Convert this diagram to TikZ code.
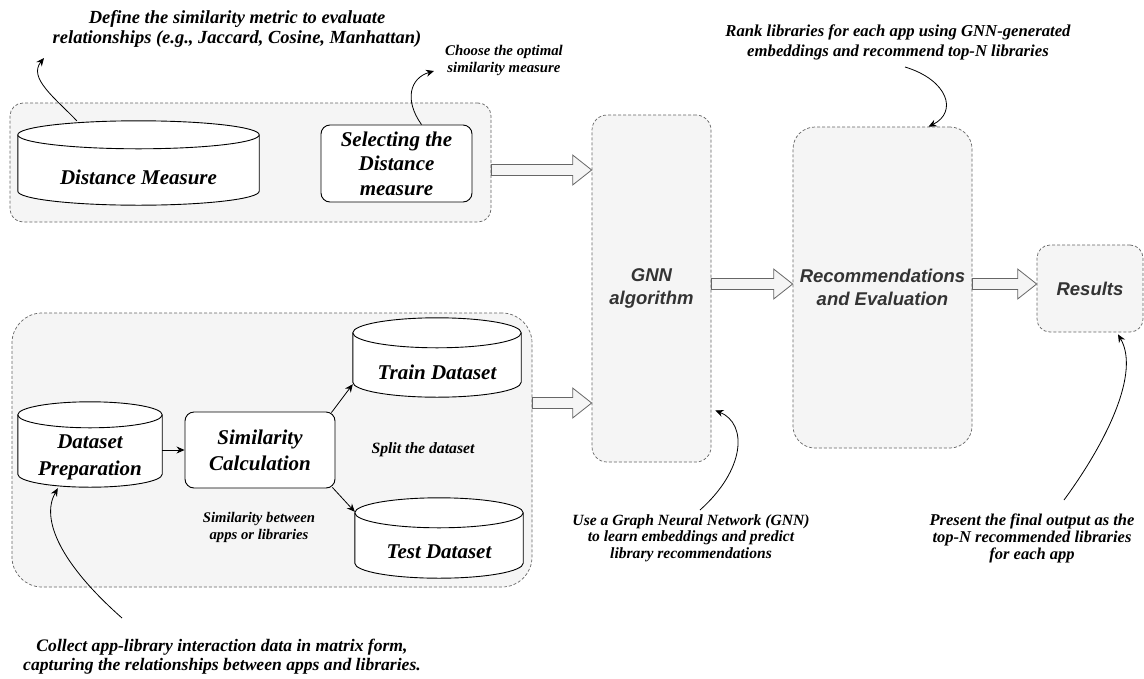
\documentclass[tikz,border=0pt]{standalone}
\usepackage{fontspec}
\setmainfont{Liberation Serif}
\newfontfamily\sansf{Liberation Sans}
\usetikzlibrary{calc,arrows.meta}
\definecolor{boxfill}{HTML}{F5F5F5}
\definecolor{boxline}{HTML}{666666}
\definecolor{lbltext}{HTML}{333333}
\newcommand{\drawcyl}[2]{%
  \filldraw[cylline] let \p1=(#1.north west), \p2=(#1.south east), \n1={(\x2-\x1)/2} in
    (\x1,\y1-#2pt) -- (\x1,\y2+#2pt)
    arc[start angle=180,end angle=360,x radius=\n1,y radius=#2pt]
    -- (\x2,\y1-#2pt)
    arc[start angle=0,end angle=180,x radius=\n1,y radius=#2pt] -- cycle;
  \draw[cylline] let \p1=(#1.north west), \p2=(#1.south east), \n1={(\x2-\x1)/2} in
    (\x1,\y1-#2pt) arc[start angle=180,end angle=360,x radius=\n1,y radius=#2pt];}
\newcommand{\hollowarrow}[2]{%
  \filldraw[hollow] let \p1=#1, \p2=#2 in
    (\x1,\y1+5.5pt) -- (\x2-19pt,\y1+5.5pt) -- (\x2-19pt,\y1+15pt) -- (\x2,\y1)
    -- (\x2-19pt,\y1-15pt) -- (\x2-19pt,\y1-5.5pt) -- (\x1,\y1-5.5pt) -- cycle;}
\tikzset{
  grpbox/.style={draw=boxline, fill=boxfill, dash pattern=on 3pt off 2pt, line width=0.7pt, rounded corners=#1, inner sep=0pt},
  grpbox/.default=14pt,
  stagebox/.style={draw=boxline, fill=boxfill, dash pattern=on 3pt off 2pt, line width=0.7pt, rounded corners=#1, inner sep=0pt, align=center, text=lbltext, font=\sansf\fontsize{18.5}{23}\selectfont\bfseries\itshape},
  stagebox/.default=15pt,
  procbox/.style={draw=black, fill=white, line width=0.9pt, rounded corners=9pt, inner sep=0pt, align=center},
  cylspace/.style={inner sep=0pt},
  cylline/.style={draw=black, fill=white, line width=0.9pt},
  serlbl/.style={align=center, font=\fontsize{21}{25}\selectfont\bfseries\itshape},
  note/.style={align=center, inner sep=0pt},
  hollow/.style={draw=boxline, fill=boxfill, line width=0.8pt},
  flow/.style={-{Stealth[length=8pt,width=7pt]}, line width=0.8pt},
  callout/.style={-{Stealth[length=8pt,width=7pt]}, line width=0.8pt},
}
\begin{document}
\begin{tikzpicture}[x=1pt,y=-1pt]
\useasboundingbox[fill=white] (0,0) rectangle (1144,678);

% group boxes
\node[grpbox=13pt, minimum width=481pt, minimum height=119pt] (topgrp) at (250.5,162.5) {};
\node[grpbox=30pt, minimum width=520pt, minimum height=274pt] (lowgrp) at (272,450) {};

% stage boxes
\node[stagebox=15pt, minimum width=119pt, minimum height=347pt] (gnn) at (651.5,288.5) {GNN\\algorithm};
\node[stagebox=22pt, minimum width=179pt, minimum height=321pt] (rec) at (882.5,287.5) {Recommendations\\and Evaluation};
\node[stagebox=13pt, minimum width=106pt, minimum height=87pt] (res) at (1090,288.5) {Results};

% top group content
\node[cylspace, minimum width=241pt, minimum height=84pt] (dist) at (138.5,163) {};
\drawcyl{dist}{14}
\node[serlbl] (distt) at ($(dist.center)+(0,14)$) {Distance Measure};
\node[procbox, minimum width=151pt, minimum height=77pt, font=\fontsize{21}{24.5}\selectfont\bfseries\itshape] (sel) at (396.5,163.5) {Selecting the\\Distance\\measure};

% lower group content
\node[cylspace, minimum width=144pt, minimum height=85pt] (dprep) at (90,444.5) {};
\drawcyl{dprep}{13}
\node[serlbl, font=\fontsize{21}{27}\selectfont\bfseries\itshape] (dprept) at ($(dprep.center)+(0,13)$) {Dataset\\Preparation};
\node[procbox, minimum width=150pt, minimum height=76pt, font=\fontsize{21}{26}\selectfont\bfseries\itshape] (sim) at (260,450) {Similarity\\Calculation};
\node[cylspace, minimum width=168pt, minimum height=79pt] (train) at (437,357.5) {};
\drawcyl{train}{15}
\node[serlbl] (traint) at ($(train.center)+(0,15)$) {Train Dataset};
\node[cylspace, minimum width=168pt, minimum height=80pt] (test) at (439,538) {};
\drawcyl{test}{15}
\node[serlbl] (testt) at ($(test.center)+(0,14)$) {Test Dataset};
\node[note, font=\fontsize{15.7}{18}\selectfont\bfseries\itshape] (split) at (423,450) {Split the dataset};
\node[note, font=\fontsize{14.7}{17}\selectfont\bfseries\itshape] (simbtw) at (259,527) {Similarity between\\apps or libraries};

% flow arrows
\draw[flow] (dprep.east |- sim.west) -- (sim.west);
\draw[flow] ($(sim.north east)+(-4,1)$) -- ($(train.south west)+(0,-13)$);
\draw[flow] ($(sim.south east)+(-3,-1)$) -- ($(test.north west)+(0,14)$);

% hollow arrows
\coordinate (r1) at (0,170);
\coordinate (r2) at (0,403);
\coordinate (r3) at (0,284);
\hollowarrow{(topgrp.east |- r1)}{(gnn.west |- r1)}
\hollowarrow{(lowgrp.east |- r2)}{(gnn.west |- r2)}
\hollowarrow{(gnn.east |- r3)}{(rec.west |- r3)}
\hollowarrow{(rec.east |- r3)}{(res.west |- r3)}

% annotation texts
\node[note, font=\fontsize{18.5}{20}\selectfont\bfseries\itshape] (deft) at (237,29) {Define the similarity metric to evaluate\\relationships (e.g., Jaccard, Cosine, Manhattan)};
\node[note, font=\fontsize{14.8}{17}\selectfont\bfseries\itshape] (choose) at (504,60) {Choose the optimal\\similarity measure};
\node[note, font=\fontsize{16.7}{20}\selectfont\bfseries\itshape] (rank) at (898,42) {Rank libraries for each app using GNN-generated\\embeddings and recommend top-N libraries};
\node[note, font=\fontsize{15.6}{16.5}\selectfont\bfseries\itshape] (usegnn) at (691,538) {Use a Graph Neural Network (GNN)\\to learn embeddings and predict\\library recommendations};
\node[note, font=\fontsize{16.5}{17}\selectfont\bfseries\itshape] (present) at (1032,538) {Present the final output as the\\top-N recommended libraries\\for each app};
\node[note, font=\fontsize{17.6}{19}\selectfont\bfseries\itshape] (collect) at (222,657) {Collect app-library interaction data in matrix form,\\capturing the relationships between apps and libraries.};

% callout curves
\coordinate (tipdef) at (44,58);
\coordinate (tipsel) at (434,71);
\coordinate (srank) at (905,67);
\coordinate (sgnn) at (700,510);
\coordinate (sres) at (1064,500);
\coordinate (sprep) at (122,618);
\draw[callout] ($(dist.north west)+(59,0)$) .. controls (55,98) and (28,78) .. (tipdef);
\draw[callout] ($(sel.north)+(25,0)$) .. controls (404,100) and (410,78) .. (tipsel);
\draw[callout] (srank) .. controls (948,80) and (958,112) .. ($(rec.north)+(46,0)$);
\draw[callout] (sgnn) .. controls (745,470) and (748,424) .. ($(gnn.south east)+(4,-52)$);
\draw[callout] (sres) .. controls (1108,440) and (1140,372) .. ($(res.south)+(28,2)$);
\draw[callout] (sprep) .. controls (62,565) and (40,520) .. ($(dprep.south west)+(40,1)$);
\end{tikzpicture}
\end{document}
